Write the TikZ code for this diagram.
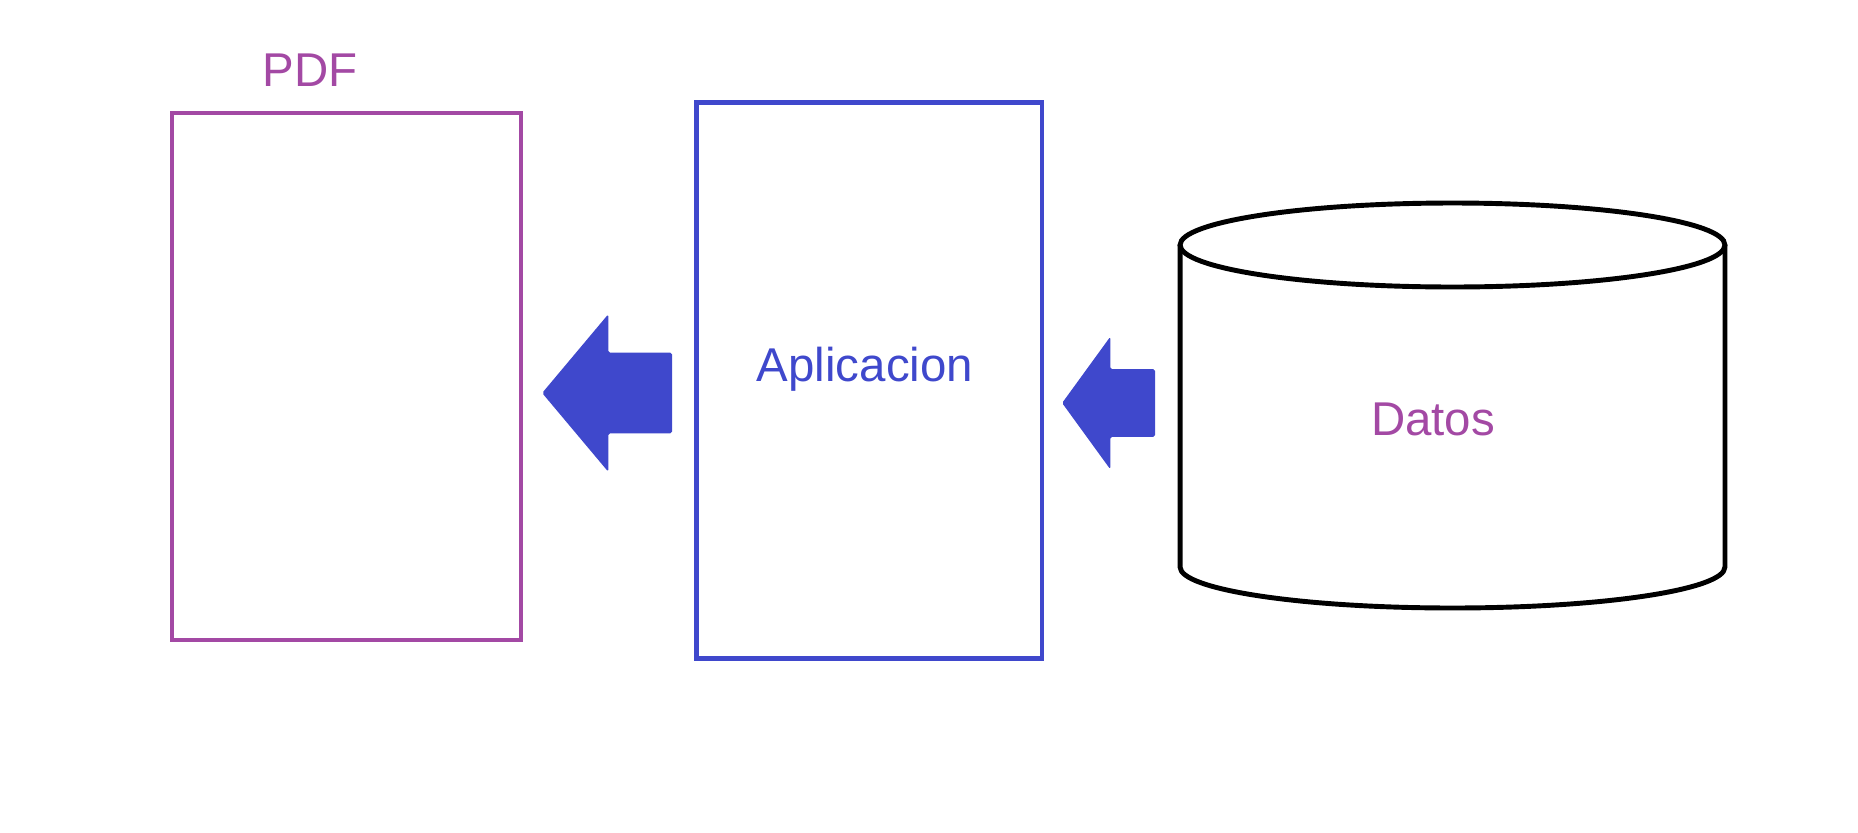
\documentclass[tikz,border=0pt]{standalone}
\usepackage{fontspec}
\setmainfont{Liberation Sans}
\usetikzlibrary{shapes.arrows}
\definecolor{pdfpurple}{HTML}{A349A4}
\definecolor{appblue}{HTML}{3F48CC}

\tikzset{
  label text/.style={anchor=base,font=\fontsize{27}{32}\selectfont},
  blockarrow/.style={single arrow,shape border rotate=180,fill=appblue,draw=none,
    inner xsep=0pt,text height=0pt,text depth=0pt,rounded corners=1pt,anchor=tip},
}

\begin{document}
\begin{tikzpicture}[x=0.02cm,y=-0.02cm]
  \useasboundingbox (0,0) rectangle (1858,832);
  % pdf
  \node[draw=pdfpurple,line width=2.5pt,minimum width=6.98cm,minimum height=10.54cm] (pdf) at (346.5,376.5) {};
  \node[label text,text=pdfpurple] (pdflabel) at (310,86.7) {PDF};
  % aplicacion
  \node[draw=appblue,line width=2.8pt,minimum width=6.92cm,minimum height=11.14cm] (app) at (869,380.5) {};
  \node[label text,text=appblue] (applabel) at (865,381.7) {Aplicacion};
  % datos
  \coordinate (dbtop) at (1452.5,245);
  \coordinate (dbbot) at (1452.5,567);
  \draw[line width=2.8pt] (dbtop) ellipse [x radius=5.45cm,y radius=0.84cm];
  \draw[line width=2.8pt,line join=round] ([xshift=-5.45cm]dbtop) -- ([xshift=-5.45cm]dbbot)
    arc [start angle=180,end angle=360,x radius=5.45cm,y radius=0.82cm] -- ([xshift=5.45cm]dbtop);
  \node[label text,text=pdfpurple] (dblabel) at (1433,435) {Datos};
  % arrows
  \node[blockarrow,minimum height=2.6cm,minimum width=3.14cm,inner ysep=0.8cm,
    single arrow head extend=0.77cm,single arrow tip angle=100] (apptopdf) at (541.7,393) {};
  \node[blockarrow,minimum height=1.86cm,minimum width=2.64cm,inner ysep=0.67cm,
    single arrow head extend=0.65cm,single arrow tip angle=108] (dbtoapp) at (1061.7,403) {};
\end{tikzpicture}
\end{document}
